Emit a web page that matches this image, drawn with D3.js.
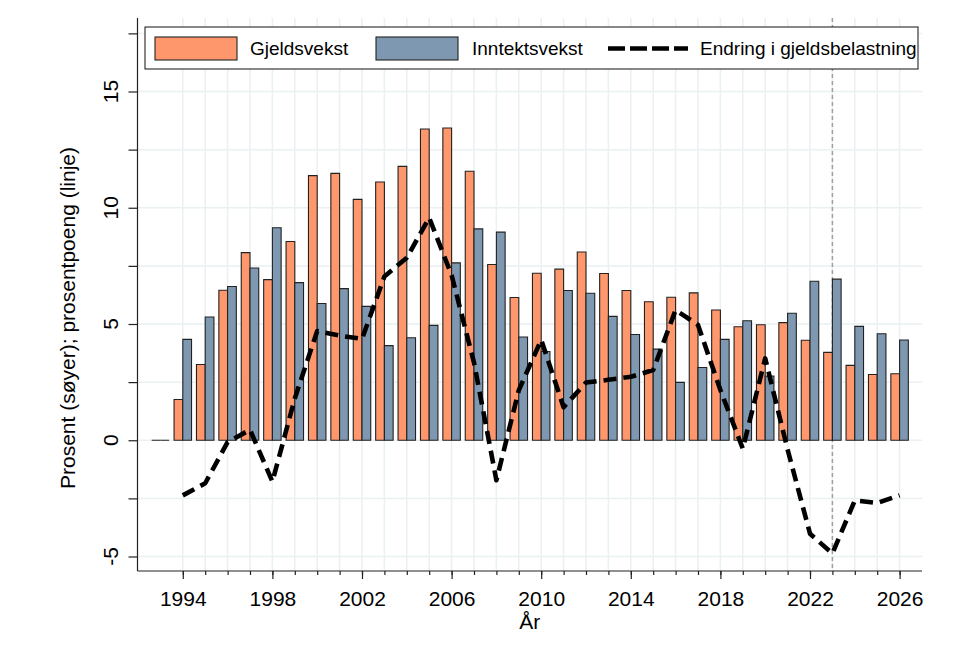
<!DOCTYPE html>
<html>
<head>
<meta charset="utf-8">
<title>Gjeldsvekst og inntektsvekst</title>
<style>
    body { margin: 0; background: #fff; }
    svg text { font-family: "Liberation Sans", Arial, sans-serif; fill: #000; }
    .grid line { stroke: #e9f1f3; stroke-width: 1.5px; }
    .axis path, .axis line { stroke: #222; stroke-width: 1.2px; }
</style>
</head>
<body>
<script src="https://cdnjs.cloudflare.com/ajax/libs/d3/7.8.5/d3.min.js"></script>
<script>
    // Data
    const years = d3.range(1993, 2027);
    const gjeldsvekst = [0, 1.75, 3.26, 6.45, 8.07, 6.91, 8.55, 11.38, 11.48, 10.36, 11.11, 11.78,
        13.39, 13.43, 11.57, 7.56, 6.14, 7.18, 7.36, 8.10, 7.17, 6.44, 5.96, 6.15, 6.34, 5.60,
        4.88, 4.97, 5.06, 4.30, 3.78, 3.22, 2.83, 2.86];
    const inntektsvekst = [0, 4.34, 5.30, 6.61, 7.41, 9.14, 6.78, 5.88, 6.52, 5.76, 4.07, 4.41,
        4.94, 7.63, 9.09, 8.95, 4.44, 3.82, 6.44, 6.32, 5.33, 4.55, 3.92, 2.49, 3.13, 4.34,
        5.14, 2.76, 5.46, 6.84, 6.93, 4.90, 4.58, 4.31];
    const lineYears = d3.range(1994, 2027);
    const endring = [-2.37, -1.85, -0.08, 0.45, -1.78, 1.8, 4.7, 4.5, 4.36, 7.04, 7.85, 9.57,
        7.1, 3.34, -1.72, 2.15, 4.32, 1.42, 2.48, 2.6, 2.73, 3.02, 5.6, 4.96, 2.16, -0.36,
        3.52, -0.4, -4.02, -4.87, -2.59, -2.70, -2.37];
    const xTickLabels = [1994, 1998, 2002, 2006, 2010, 2014, 2018, 2022, 2026];
    const yTickLabels = [-5, 0, 5, 10, 15];
    const yGridValues = d3.range(-5, 17.6, 2.5);
    const prognoseYear = 2023;
    const legendLabels = ["Gjeldsvekst", "Inntektsvekst", "Endring i gjeldsbelastning"];

    const width = 976, height = 657;
    const svg = d3.select("body").append("svg")
        .attr("width", width)
        .attr("height", height);

    const x = d3.scaleLinear().domain([1992, 2027]).range([138, 922]);
    const y = d3.scaleLinear().domain([-5, 15]).range([556.5, 91.5]);
    const yBottom = 571, yTop = 18;
    const xLeft = 137.5, xRight = 922;

    // Gridlines
    const grid = svg.append("g").attr("class", "grid");
    grid.selectAll("line.v")
        .data(d3.range(1994, 2027))
        .join("line")
        .attr("x1", d => x(d)).attr("x2", d => x(d))
        .attr("y1", yTop).attr("y2", yBottom);
    grid.selectAll("line.h")
        .data(yGridValues)
        .join("line")
        .attr("x1", xLeft).attr("x2", xRight)
        .attr("y1", d => y(d)).attr("y2", d => y(d));

    // Prognosis marker
    svg.append("line")
        .attr("x1", x(prognoseYear)).attr("x2", x(prognoseYear))
        .attr("y1", yTop).attr("y2", yBottom)
        .attr("stroke", "#a0a0a0")
        .attr("stroke-width", 1.5)
        .attr("stroke-dasharray", "4,3");

    // Bars (as paths so zero-height bars still show their outline)
    const bw = (x(1) - x(0)) * 0.39;
    const barPath = (x0, v) => `M${x0},${y(0)}V${y(v)}H${x0 + bw}V${y(0)}Z`;
    const bars = svg.append("g")
        .attr("stroke", "#222")
        .attr("stroke-width", 1.1);
    bars.selectAll("path.g")
        .data(years.map((yr, i) => ({yr, v: gjeldsvekst[i]})))
        .join("path")
        .attr("d", d => barPath(x(d.yr) - bw, d.v))
        .attr("fill", "#ff976d");
    bars.selectAll("path.i")
        .data(years.map((yr, i) => ({yr, v: inntektsvekst[i]})))
        .join("path")
        .attr("d", d => barPath(x(d.yr), d.v))
        .attr("fill", "#7f98b1");

    // Dashed line
    const line = d3.line()
        .x((d, i) => x(lineYears[i]))
        .y(d => y(d));
    svg.append("path")
        .datum(endring)
        .attr("d", line)
        .attr("fill", "none")
        .attr("stroke", "#000")
        .attr("stroke-width", 4.6)
        .attr("stroke-linejoin", "round")
        .attr("stroke-dasharray", "13,7");

    // Axes
    const xAxisMinor = d3.axisBottom(x)
        .tickValues(d3.range(1994, 2027))
        .tickSize(4)
        .tickFormat("");
    svg.append("g")
        .attr("class", "axis")
        .attr("transform", `translate(0,${yBottom})`)
        .call(xAxisMinor)
        .call(g => g.select(".domain").attr("d", `M${xLeft},0H${xRight}`));

    const xAxisMajor = d3.axisBottom(x)
        .tickValues(xTickLabels)
        .tickSize(8)
        .tickPadding(12)
        .tickFormat(d3.format("d"));
    svg.append("g")
        .attr("class", "axis")
        .attr("transform", `translate(0,${yBottom})`)
        .call(xAxisMajor)
        .call(g => g.select(".domain").remove())
        .call(g => g.selectAll("text").attr("font-size", 21).attr("font-family", null));

    const yAxis = d3.axisLeft(y)
        .tickValues(yGridValues)
        .tickSize(9)
        .tickFormat("");
    svg.append("g")
        .attr("class", "axis")
        .attr("transform", `translate(${xLeft},0)`)
        .call(yAxis)
        .call(g => g.select(".domain").attr("d", `M0,${yBottom}V${yTop}`));

    svg.append("g")
        .selectAll("text")
        .data(yTickLabels)
        .join("text")
        .attr("transform", d => `translate(118,${y(d)}) rotate(-90)`)
        .attr("text-anchor", "middle")
        .attr("font-size", 21)
        .text(d => d);

    // Axis titles
    svg.append("text")
        .attr("transform", `translate(75,${(y(-5) + y(15)) / 2 - 6}) rotate(-90)`)
        .attr("text-anchor", "middle")
        .attr("font-size", 21)
        .text("Prosent (søyer); prosentpoeng (linje)");
    svg.append("text")
        .attr("x", (xLeft + xRight) / 2)
        .attr("y", 629)
        .attr("text-anchor", "middle")
        .attr("font-size", 21)
        .text("År");

    // Legend
    const legend = svg.append("g");
    legend.append("rect")
        .attr("x", 145).attr("y", 27)
        .attr("width", 773).attr("height", 42)
        .attr("fill", "#fff")
        .attr("stroke", "#111")
        .attr("stroke-width", 1);
    const swatches = [
        {x: 155, fill: "#ff976d", label: legendLabels[0], tx: 250},
        {x: 376, fill: "#7f98b1", label: legendLabels[1], tx: 472}
    ];
    swatches.forEach(s => {
        legend.append("rect")
            .attr("x", s.x).attr("y", 37)
            .attr("width", 82).attr("height", 23)
            .attr("fill", s.fill)
            .attr("stroke", "#222")
            .attr("stroke-width", 1.1);
        legend.append("text")
            .attr("x", s.tx).attr("y", 55)
            .attr("font-size", 19)
            .text(s.label);
    });
    legend.append("line")
        .attr("x1", 608).attr("x2", 688)
        .attr("y1", 48.5).attr("y2", 48.5)
        .attr("stroke", "#000")
        .attr("stroke-width", 4.6)
        .attr("stroke-dasharray", "17,5");
    legend.append("text")
        .attr("x", 700).attr("y", 55)
        .attr("font-size", 19)
        .text(legendLabels[2]);
</script>
</body>
</html>
